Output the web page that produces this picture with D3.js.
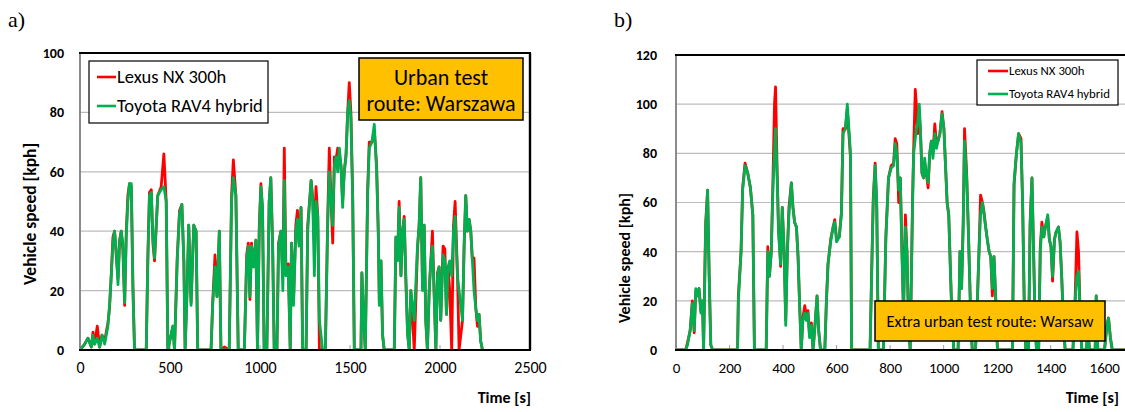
<!DOCTYPE html>
<html><head><meta charset="utf-8">
<script src="https://cdn.jsdelivr.net/npm/d3@7"></script>
<style>
html,body{margin:0;padding:0;background:#fff;overflow:hidden}
svg{display:block}
</style></head><body>
<svg id="chart" width="1125" height="412"></svg>
<script>
// ---------- Data: panel a (urban, Warszawa) ----------
const timeA = [0,26,44,63,72,81,96,109,122,137,155,164,174,183,192,201,211,220,229,238,248,257,266,275,285,294,303,368,377,386,396,405,414,432,451,466,479,488,516,525,540,553,566,577,584,595,604,617,632,645,654,728,737,750,761,774,783,802,829,842,852,866,879,913,926,935,944,953,964,977,986,996,1005,1014,1023,1038,1051,1060,1070,1079,1094,1103,1116,1127,1135,1144,1157,1168,1175,1186,1199,1208,1217,1228,1237,1256,1265,1284,1293,1302,1311,1321,1330,1348,1363,1376,1385,1395,1404,1413,1422,1432,1441,1450,1459,1468,1478,1487,1496,1505,1515,1524,1561,1566,1576,1585,1598,1607,1622,1635,1648,1657,1663,1672,1681,1690,1746,1755,1764,1773,1783,1792,1801,1810,1820,1829,1838,1857,1875,1884,1893,1903,1912,1921,1930,1940,1949,1958,1967,1977,1986,1995,2004,2017,2027,2036,2045,2054,2065,2075,2084,2097,2106,2125,2134,2143,2152,2162,2171,2180,2189,2199,2208,2217,2226,2236];
const toyotaA = [0,2,4,1,5,2,4,1,5,2,8,15,25,36,40,34,22,36,40,36,16,38,50,56,56,20,0,0,30,52,53,38,31,52,54,55,50,0,8,0,30,46,49,30,0,20,42,15,42,40,0,0,15,28,18,40,0,0,0,50,58,52,0,0,30,35,18,35,28,37,0,40,55,48,0,0,50,58,35,0,0,35,40,20,57,25,28,0,36,15,40,44,35,48,0,0,40,57,50,25,50,45,10,0,0,42,60,50,42,62,65,60,68,62,48,60,65,80,84,78,50,0,0,26,10,0,52,68,70,76,60,40,15,30,5,0,0,38,30,48,25,40,44,25,5,0,20,10,35,42,58,20,42,10,0,20,30,35,20,0,25,28,10,32,30,12,28,30,25,40,45,25,20,10,35,52,40,44,40,30,20,14,10,12,3,0];
const lexusA  = [0,2,4,1,6,2,8,1,5,3,9,14,26,38,40,32,24,37,40,34,15,40,52,56,55,22,0,0,32,53,54,36,30,52,55,66,50,0,8,0,31,47,49,30,0,21,42,16,42,40,0,0,16,32,18,40,0,1,0,52,64,52,0,0,32,36,17,36,28,37,0,42,56,47,0,0,50,58,36,0,0,36,40,25,68,26,29,0,36,16,42,47,36,48,0,0,42,57,51,35,55,45,0,0,0,44,68,50,36,65,64,68,66,62,50,60,66,80,90,80,52,0,0,26,10,0,54,70,70,74,62,40,16,30,5,0,0,38,31,50,25,40,45,24,6,0,20,0,34,42,58,21,42,10,0,20,30,40,20,0,26,28,10,35,34,12,28,20,0,42,50,26,0,10,35,52,40,44,40,30,31,14,8,12,3,0];

// ---------- Data: panel b (extra urban, Warsaw) ----------
const timeB = [0,36,43,53,61,68,74,80,86,93,99,103,108,111,118,124,130,137,230,233,243,249,258,268,278,287,293,337,343,349,356,362,368,372,378,383,391,397,404,410,416,422,431,437,443,450,456,462,468,474,481,487,493,499,506,512,518,527,533,540,556,562,568,578,587,593,600,610,618,624,633,640,646,652,656,662,725,731,737,744,750,756,775,784,794,804,813,819,825,832,838,844,850,857,863,869,875,884,888,894,898,903,909,913,919,925,929,935,942,948,954,960,967,973,979,986,994,1001,1007,1013,1019,1026,1032,1038,1054,1061,1067,1073,1078,1086,1092,1097,1102,1107,1119,1126,1132,1138,1145,1151,1157,1163,1170,1176,1182,1188,1195,1201,1257,1263,1272,1280,1289,1295,1301,1307,1317,1323,1330,1336,1342,1347,1355,1361,1367,1374,1380,1389,1395,1401,1407,1414,1420,1429,1435,1441,1448,1454,1483,1491,1498,1504,1510,1516,1533,1539,1545,1566,1570,1576,1601,1610,1616,1623,1630,1683];
const toyotaB = [0,0,2,8,19,8,25,22,25,15,20,0,30,50,65,30,2,0,0,20,40,65,75,72,66,55,0,0,40,30,40,65,80,90,70,48,35,58,40,10,40,55,68,58,52,50,38,18,0,12,15,12,15,5,10,0,8,22,8,0,0,20,35,44,50,52,44,46,55,88,90,100,90,80,0,0,0,30,60,75,60,0,0,45,70,74,75,84,80,65,70,40,15,50,40,10,0,60,80,86,90,92,100,90,72,70,78,72,68,80,85,78,88,82,85,88,96,90,75,60,55,30,10,0,0,40,25,50,85,70,50,30,10,0,0,20,40,55,60,55,50,45,40,38,25,38,20,0,0,68,80,88,84,60,20,0,0,50,70,40,10,0,0,40,50,46,50,55,45,42,30,45,48,50,44,30,10,0,0,20,30,32,15,0,0,8,0,0,22,0,0,10,13,5,0,0];
const lexusB  = [0,0,3,8,20,7,24,22,25,16,20,0,35,52,65,30,2,0,0,22,40,66,76,72,66,55,0,0,42,30,40,68,100,107,72,50,34,58,40,12,40,58,68,58,52,50,38,18,0,13,18,14,16,6,11,0,8,22,8,0,0,20,35,45,50,53,45,46,56,90,90,98,88,78,0,0,0,32,62,76,58,0,0,46,70,75,76,86,84,60,70,42,15,55,40,10,0,62,82,106,100,88,96,90,72,70,76,72,66,80,85,80,92,84,85,88,97,90,75,60,55,30,10,0,0,40,25,52,90,72,50,30,10,0,0,20,40,63,60,56,50,45,40,38,22,38,20,0,0,67,80,88,86,60,20,0,0,52,70,40,10,0,0,42,52,46,50,54,45,42,28,45,48,50,44,30,10,0,0,20,48,40,15,0,0,8,0,0,22,0,0,10,13,5,0,0];

const seriesNames = ["Lexus NX 300h", "Toyota RAV4 hybrid"];
const seriesColors = ["#ff0000", "#00b050"];
const yTicksA = [0,20,40,60,80,100];
const xTicksA = [0,500,1000,1500,2000,2500];
const yTicksB = [0,20,40,60,80,100,120];
const xTicksB = [0,200,400,600,800,1000,1200,1400,1600];

const svg = d3.select("#chart");
const FONT = "Carlito, Lato, 'Open Sans', sans-serif";

function panel(cfg){
  const g = svg.append("g");
  const x = d3.scaleLinear().domain(cfg.xDomain).range([cfg.left, cfg.right]);
  const y = d3.scaleLinear().domain(cfg.yDomain).range([cfg.bottom, cfg.top]);
  const clipId = "clip" + cfg.id;
  svg.append("clipPath").attr("id", clipId).append("rect")
    .attr("x", cfg.left).attr("y", cfg.top - 2)
    .attr("width", cfg.right - cfg.left).attr("height", cfg.bottom - cfg.top + 2);

  // gridlines
  g.selectAll(".grid").data(cfg.yTicks.filter(v => v > cfg.yDomain[0] && v < cfg.yDomain[1]))
    .join("line")
    .attr("x1", cfg.left).attr("x2", cfg.right)
    .attr("y1", d => y(d)).attr("y2", d => y(d))
    .attr("stroke", "#bcbcbc").attr("stroke-width", 1.2);

  // y axis labels
  const yAxis = d3.axisLeft(y).tickValues(cfg.yTicks).tickSize(0).tickPadding(cfg.yPad).tickFormat(d3.format("d"));
  const ya = g.append("g").attr("transform", `translate(${cfg.left},0)`).call(yAxis);
  ya.select(".domain").remove();
  ya.selectAll("text").attr("font-family", FONT).attr("font-weight", "bold")
    .attr("font-size", cfg.tickSize).attr("fill", "#000");

  // x axis labels
  const xAxis = d3.axisBottom(x).tickValues(cfg.xTicks).tickSize(0).tickPadding(cfg.xPad).tickFormat(d3.format("d"));
  const xa = g.append("g").attr("transform", `translate(0,${cfg.bottom})`).call(xAxis);
  xa.select(".domain").remove();
  xa.selectAll("text").attr("font-family", FONT).attr("font-size", cfg.xTickSize).attr("fill", "#000");

  // inner x tick marks
  g.selectAll(".xt").data(cfg.xTicks.filter(v => v > cfg.xDomain[0] && v < cfg.xDomain[1]))
    .join("line")
    .attr("x1", d => x(d)).attr("x2", d => x(d))
    .attr("y1", cfg.bottom).attr("y2", cfg.bottom - 5)
    .attr("stroke", "#a0a0a0").attr("stroke-width", 1);

  // data lines
  const line = d3.line().x(d => x(d[0])).y(d => y(d[1]));
  const lg = g.append("g").attr("clip-path", `url(#${clipId})`);
  cfg.series.forEach((s, i) => {
    const pts = cfg.time.map((t, k) => [t, s[k]]);
    lg.append("path").datum(pts).attr("d", line)
      .attr("fill", "none").attr("stroke", seriesColors[i])
      .attr("stroke-width", 2.8).attr("stroke-linejoin", "round");
  });

  // frame
  g.append("line").attr("x1", cfg.left).attr("x2", cfg.left).attr("y1", cfg.top).attr("y2", cfg.bottom)
    .attr("stroke", "#7f7f7f").attr("stroke-width", 1.8);
  g.append("line").attr("x1", cfg.left - 1).attr("x2", cfg.right + 1).attr("y1", cfg.top).attr("y2", cfg.top)
    .attr("stroke", "#000").attr("stroke-width", 2.2);
  g.append("line").attr("x1", cfg.left - 1).attr("x2", cfg.right + 1).attr("y1", cfg.bottom).attr("y2", cfg.bottom)
    .attr("stroke", "#000").attr("stroke-width", 2);
  if (cfg.rightBorder) {
    g.append("line").attr("x1", cfg.right).attr("x2", cfg.right).attr("y1", cfg.top).attr("y2", cfg.bottom)
      .attr("stroke", "#000").attr("stroke-width", 2.4);
  }

  // axis titles
  g.append("text").attr("transform", `translate(${cfg.yTitleX},${cfg.yTitleY}) rotate(-90)`)
    .attr("text-anchor", "middle").attr("font-family", FONT).attr("font-weight", "bold")
    .attr("font-size", cfg.yTitleSize).text("Vehicle speed [kph]");
  g.append("text").attr("x", cfg.xTitleX).attr("y", cfg.xTitleY)
    .attr("text-anchor", "end").attr("font-family", FONT).attr("font-weight", "bold")
    .attr("font-size", cfg.xTitleSize).text("Time [s]");

  // panel letter
  g.append("text").attr("x", cfg.letterX).attr("y", 27)
    .attr("font-family", "'Liberation Serif', 'Times New Roman', serif")
    .attr("font-size", 22).text(cfg.letter);

  // legend
  const L = cfg.legend;
  g.append("rect").attr("x", L.x).attr("y", L.y).attr("width", L.w).attr("height", L.h)
    .attr("fill", "#fff").attr("stroke", "#000").attr("stroke-width", 1.2);
  seriesNames.forEach((n, i) => {
    const yy = L.y + L.r0 + i * L.dy;
    g.append("line").attr("x1", L.x + L.l0).attr("x2", L.x + L.l1).attr("y1", yy).attr("y2", yy)
      .attr("stroke", seriesColors[i]).attr("stroke-width", 2.6);
    g.append("text").attr("x", L.x + L.l1 + 1).attr("y", yy).attr("dy", "0.35em")
      .attr("font-family", FONT).attr("font-size", L.fs).text(n);
  });

  // annotation box
  const A = cfg.note;
  g.append("rect").attr("x", A.x).attr("y", A.y).attr("width", A.w).attr("height", A.h)
    .attr("fill", "#ffc000").attr("stroke", "#000").attr("stroke-width", 1.5);
  A.lines.forEach((t, i) => {
    g.append("text").attr("x", A.x + A.w / 2).attr("y", A.y + A.first + i * A.dy)
      .attr("dy", "0.35em").attr("text-anchor", "middle")
      .attr("font-family", FONT).attr("font-size", A.fs).text(t);
  });
}

panel({
  id: "A", letter: "a)", letterX: 8,
  xDomain: [0, 2500], yDomain: [0, 100],
  left: 80, right: 530, top: 53, bottom: 350,
  xTicks: xTicksA, yTicks: yTicksA,
  time: timeA, series: [lexusA, toyotaA],
  tickSize: 14, xTickSize: 16, yPad: 16, xPad: 12,
  rightBorder: true,
  yTitleX: 36, yTitleY: 214, yTitleSize: 17.5,
  xTitleX: 531, xTitleY: 403, xTitleSize: 16,
  legend: {x: 89, y: 61, w: 179, h: 62, r0: 16, dy: 29, l0: 8, l1: 27, fs: 18.5},
  note: {x: 359, y: 58, w: 164, h: 62, first: 19, dy: 26.5, fs: 22, lines: ["Urban test", "route: Warszawa"]}
});

panel({
  id: "B", letter: "b)", letterX: 614,
  xDomain: [0, 1700], yDomain: [0, 120],
  left: 676, right: 1131, top: 55, bottom: 350,
  xTicks: xTicksB, yTicks: yTicksB,
  tickSize: 14, xTickSize: 15, yPad: 19, xPad: 12,
  time: timeB, series: [lexusB, toyotaB],
  rightBorder: false,
  yTitleX: 630, yTitleY: 258, yTitleSize: 16,
  xTitleX: 1119, xTitleY: 403, xTitleSize: 16,
  legend: {x: 977, y: 60, w: 141, h: 45, r0: 11, dy: 23, l0: 11, l1: 31, fs: 12.8},
  note: {x: 875, y: 301, w: 230, h: 40, first: 20, dy: 0, fs: 16.4, lines: ["Extra urban test route: Warsaw"]}
});
</script>
</body></html>
